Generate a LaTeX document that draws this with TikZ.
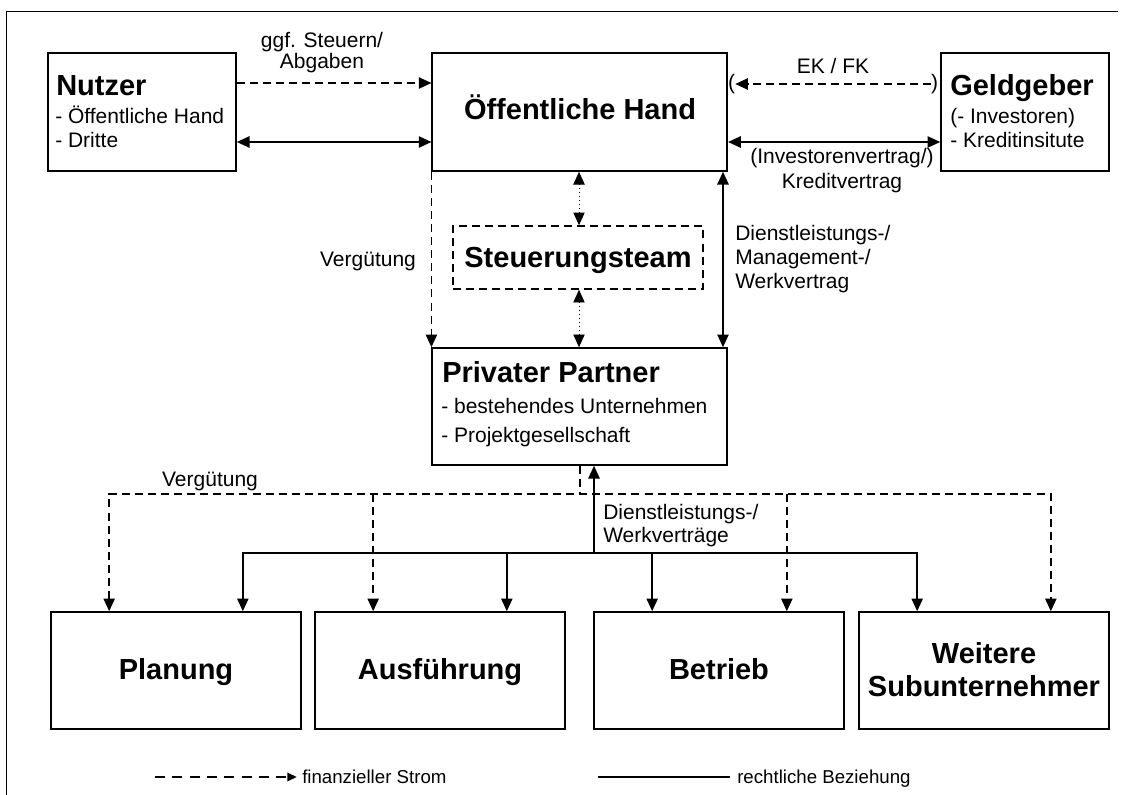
\documentclass[tikz,border=0pt]{standalone}
\usepackage{fontspec}
\setmainfont{Liberation Sans}
\usetikzlibrary{arrows.meta,calc}

\tikzset{
  box/.style={draw, line width=1.25pt, inner sep=0pt, minimum width=#1},
  tbig/.style={inner sep=0pt, font=\fontsize{21.75}{24}\selectfont\bfseries},
  tsm/.style={inner sep=0pt, font=\fontsize{15.75}{17}\selectfont},
  tleg/.style={inner sep=0pt, font=\fontsize{14}{16}\selectfont},
  law/.style={line width=1.2pt},
  fin/.style={line width=1.2pt, dash pattern=on 6pt off 3.8pt},
  ctl/.style={line width=0.7pt, dash pattern=on 0.8pt off 2.2pt},
  tip/.tip={Triangle[length=9.5pt,width=8.5pt]},
  smalltip/.tip={Triangle[length=7pt,width=6.5pt]},
}

\begin{document}
\begin{tikzpicture}[x=0.75pt,y=-0.75pt]
\useasboundingbox (0,0) rectangle (1127,795);

% outer frame (only top and left edges are inside the page)
\draw[line width=1.2pt] (6.5,795) -- (6.5,11.5) -- (1118,11.5);

% ---------- boxes ----------
\node[box=141pt, minimum height=88.5pt]   (nutzer) at (142,112) {};
\node[box=221.25pt, minimum height=88.5pt] (oeh)   at (579.75,112) {};
\node[box=126pt, minimum height=88.5pt]   (geld)   at (1025,112) {};
\node[draw, line width=1.2pt, dash pattern=on 6pt off 3.8pt, inner sep=0pt,
      minimum width=187.5pt, minimum height=47.25pt] (steu) at (578,257.5) {};
\node[box=221.25pt, minimum height=87.75pt] (pp)   at (579.75,406.5) {};
\node[box=187.5pt, minimum height=87.75pt] (plan)  at (176,670.5) {};
\node[box=187.5pt, minimum height=87.75pt] (ausf)  at (440,670.5) {};
\node[box=187.5pt, minimum height=87.75pt] (betr)  at (719,670.5) {};
\node[box=187.5pt, minimum height=87.75pt] (weit)  at (984,670.5) {};

% ---------- box texts ----------
\node[tbig, anchor=base west] (nutzerT) at (56,96) {Nutzer};
\node[tsm, anchor=base west]  (nutzerA) at (55,124) {- Öffentliche Hand};
\node[tsm, anchor=base west]  (nutzerB) at (55,148) {- Dritte};

\node[tbig, anchor=base] (oehT) at (580,120) {Öffentliche Hand};

\node[tbig, anchor=base west] (geldT) at (950,96) {Geldgeber};
\node[tsm, anchor=base west]  (geldA) at (950,124) {(- Investoren)};
\node[tsm, anchor=base west]  (geldB) at (950,148) {- Kreditinsitute};

\node[tbig, anchor=base] (steuT) at (578,267) {Steuerungsteam};

\node[tbig, anchor=base west] (ppT) at (442,382) {Privater Partner};
\node[tsm, anchor=base west]  (ppA) at (441,413) {- bestehendes Unternehmen};
\node[tsm, anchor=base west]  (ppB) at (441,442) {- Projektgesellschaft};

\node[tbig, anchor=base] (planT) at (176,679) {Planung};
\node[tbig, anchor=base] (ausfT) at (440,679) {Ausführung};
\node[tbig, anchor=base] (betrT) at (719,679) {Betrieb};
\node[tbig, anchor=base] (weitA) at (984,663) {Weitere};
\node[tbig, anchor=base] (weitB) at (984,696) {Subunternehmer};

% ---------- connector labels ----------
\node[tsm, anchor=base] (lblSteuA) at (322,48) {ggf. Steuern/};
\node[tsm, anchor=base] (lblSteuB) at (322,69) {Abgaben};
\node[tsm, anchor=base] (lblEK) at (833,74) {EK / FK};
\node[tsm] (lpar) at (731.5,84) {(};
\node[tsm] (rpar) at (934.5,84) {)};
\node[tsm, anchor=base] (lblInv) at (842,164) {(Investorenvertrag/)};
\node[tsm, anchor=base] (lblKred) at (842,188) {Kreditvertrag};
\node[tsm, anchor=base west] (lblDlA) at (735,240) {Dienstleistungs-/};
\node[tsm, anchor=base west] (lblDlB) at (735,264) {Management-/};
\node[tsm, anchor=base west] (lblDlC) at (735,288) {Werkvertrag};
\node[tsm, anchor=base] (lblVerg) at (368,266) {Vergütung};
\node[tsm, anchor=base] (lblVerg2) at (210,486) {Vergütung};
\node[tsm, anchor=base west] (lblWvA) at (603,519) {Dienstleistungs-/};
\node[tsm, anchor=base west] (lblWvB) at (603,542) {Werkverträge};

% ---------- reference rows / columns ----------
\coordinate (rowFin) at (0,83);
\coordinate (rowLaw) at (0,142);
\coordinate (colCtl) at (579,0);
\coordinate (colLaw) at (723,0);
\coordinate (colStub) at (580,0);
\coordinate (colUp) at (594,0);
\coordinate (busFin) at (0,494);
\coordinate (busLaw) at (0,553);

% ---------- upper connectors ----------
\draw[fin, -tip] (nutzer.east |- rowFin) -- (oeh.west |- rowFin);
\draw[law, tip-tip] (nutzer.east |- rowLaw) -- (oeh.west |- rowLaw);
\draw[fin, -tip] (rpar.west) -- (lpar.east);
\draw[law, tip-tip] (oeh.east |- rowLaw) -- (geld.west |- rowLaw);

\draw[fin, -tip] (oeh.south west) -- (pp.north west);
\draw[law, tip-tip] (oeh.south -| colLaw) -- (pp.north -| colLaw);
\draw[ctl, tip-tip] (oeh.south -| colCtl) -- (steu.north -| colCtl);
\draw[ctl, tip-tip] (steu.south -| colCtl) -- (pp.north -| colCtl);

% ---------- lower connectors ----------
\coordinate (dPlan) at ($(plan.north west)+(59,0)$);
\coordinate (sPlan) at ($(plan.north east)+(-59,0)$);
\coordinate (dAusf) at ($(ausf.north west)+(59,0)$);
\coordinate (sAusf) at ($(ausf.north east)+(-59,0)$);
\coordinate (sBetr) at ($(betr.north west)+(59,0)$);
\coordinate (dBetr) at ($(betr.north east)+(-58,0)$);
\coordinate (sWeit) at ($(weit.north west)+(59,0)$);
\coordinate (dWeit) at ($(weit.north east)+(-59,0)$);

% financial flow: payments to the subcontractors
\draw[fin] (pp.south -| colStub) -- (colStub |- busFin);
\draw[fin, tip-tip] (dPlan) -- (dPlan |- busFin) -- (dWeit |- busFin) -- (dWeit);
\draw[fin, -tip] (dAusf |- busFin) -- (dAusf);
\draw[fin, -tip] (dBetr |- busFin) -- (dBetr);

% legal relations: service / work contracts
\draw[law, -tip] (colUp |- busLaw) -- (pp.south -| colUp);
\draw[law, tip-tip] (sPlan) -- (sPlan |- busLaw) -- (sWeit |- busLaw) -- (sWeit);
\draw[law, -tip] (sAusf |- busLaw) -- (sAusf);
\draw[law, -tip] (sBetr |- busLaw) -- (sBetr);

% ---------- legend ----------
\node[tleg, anchor=base west] (legFin) at (302,783) {finanzieller Strom};
\node[tleg, anchor=base west] (legLaw) at (737,783) {rechtliche Beziehung};
\coordinate (legFinStart) at (155,777);
\coordinate (legLawStart) at (598,777);
\draw[line width=1pt, dash pattern=on 7.5pt off 5.5pt, -smalltip, shorten >=4pt]
  (legFinStart) -- (legFinStart -| legFin.west);
\draw[line width=1pt, shorten >=5pt] (legLawStart) -- (legLawStart -| legLaw.west);
\end{tikzpicture}
\end{document}
